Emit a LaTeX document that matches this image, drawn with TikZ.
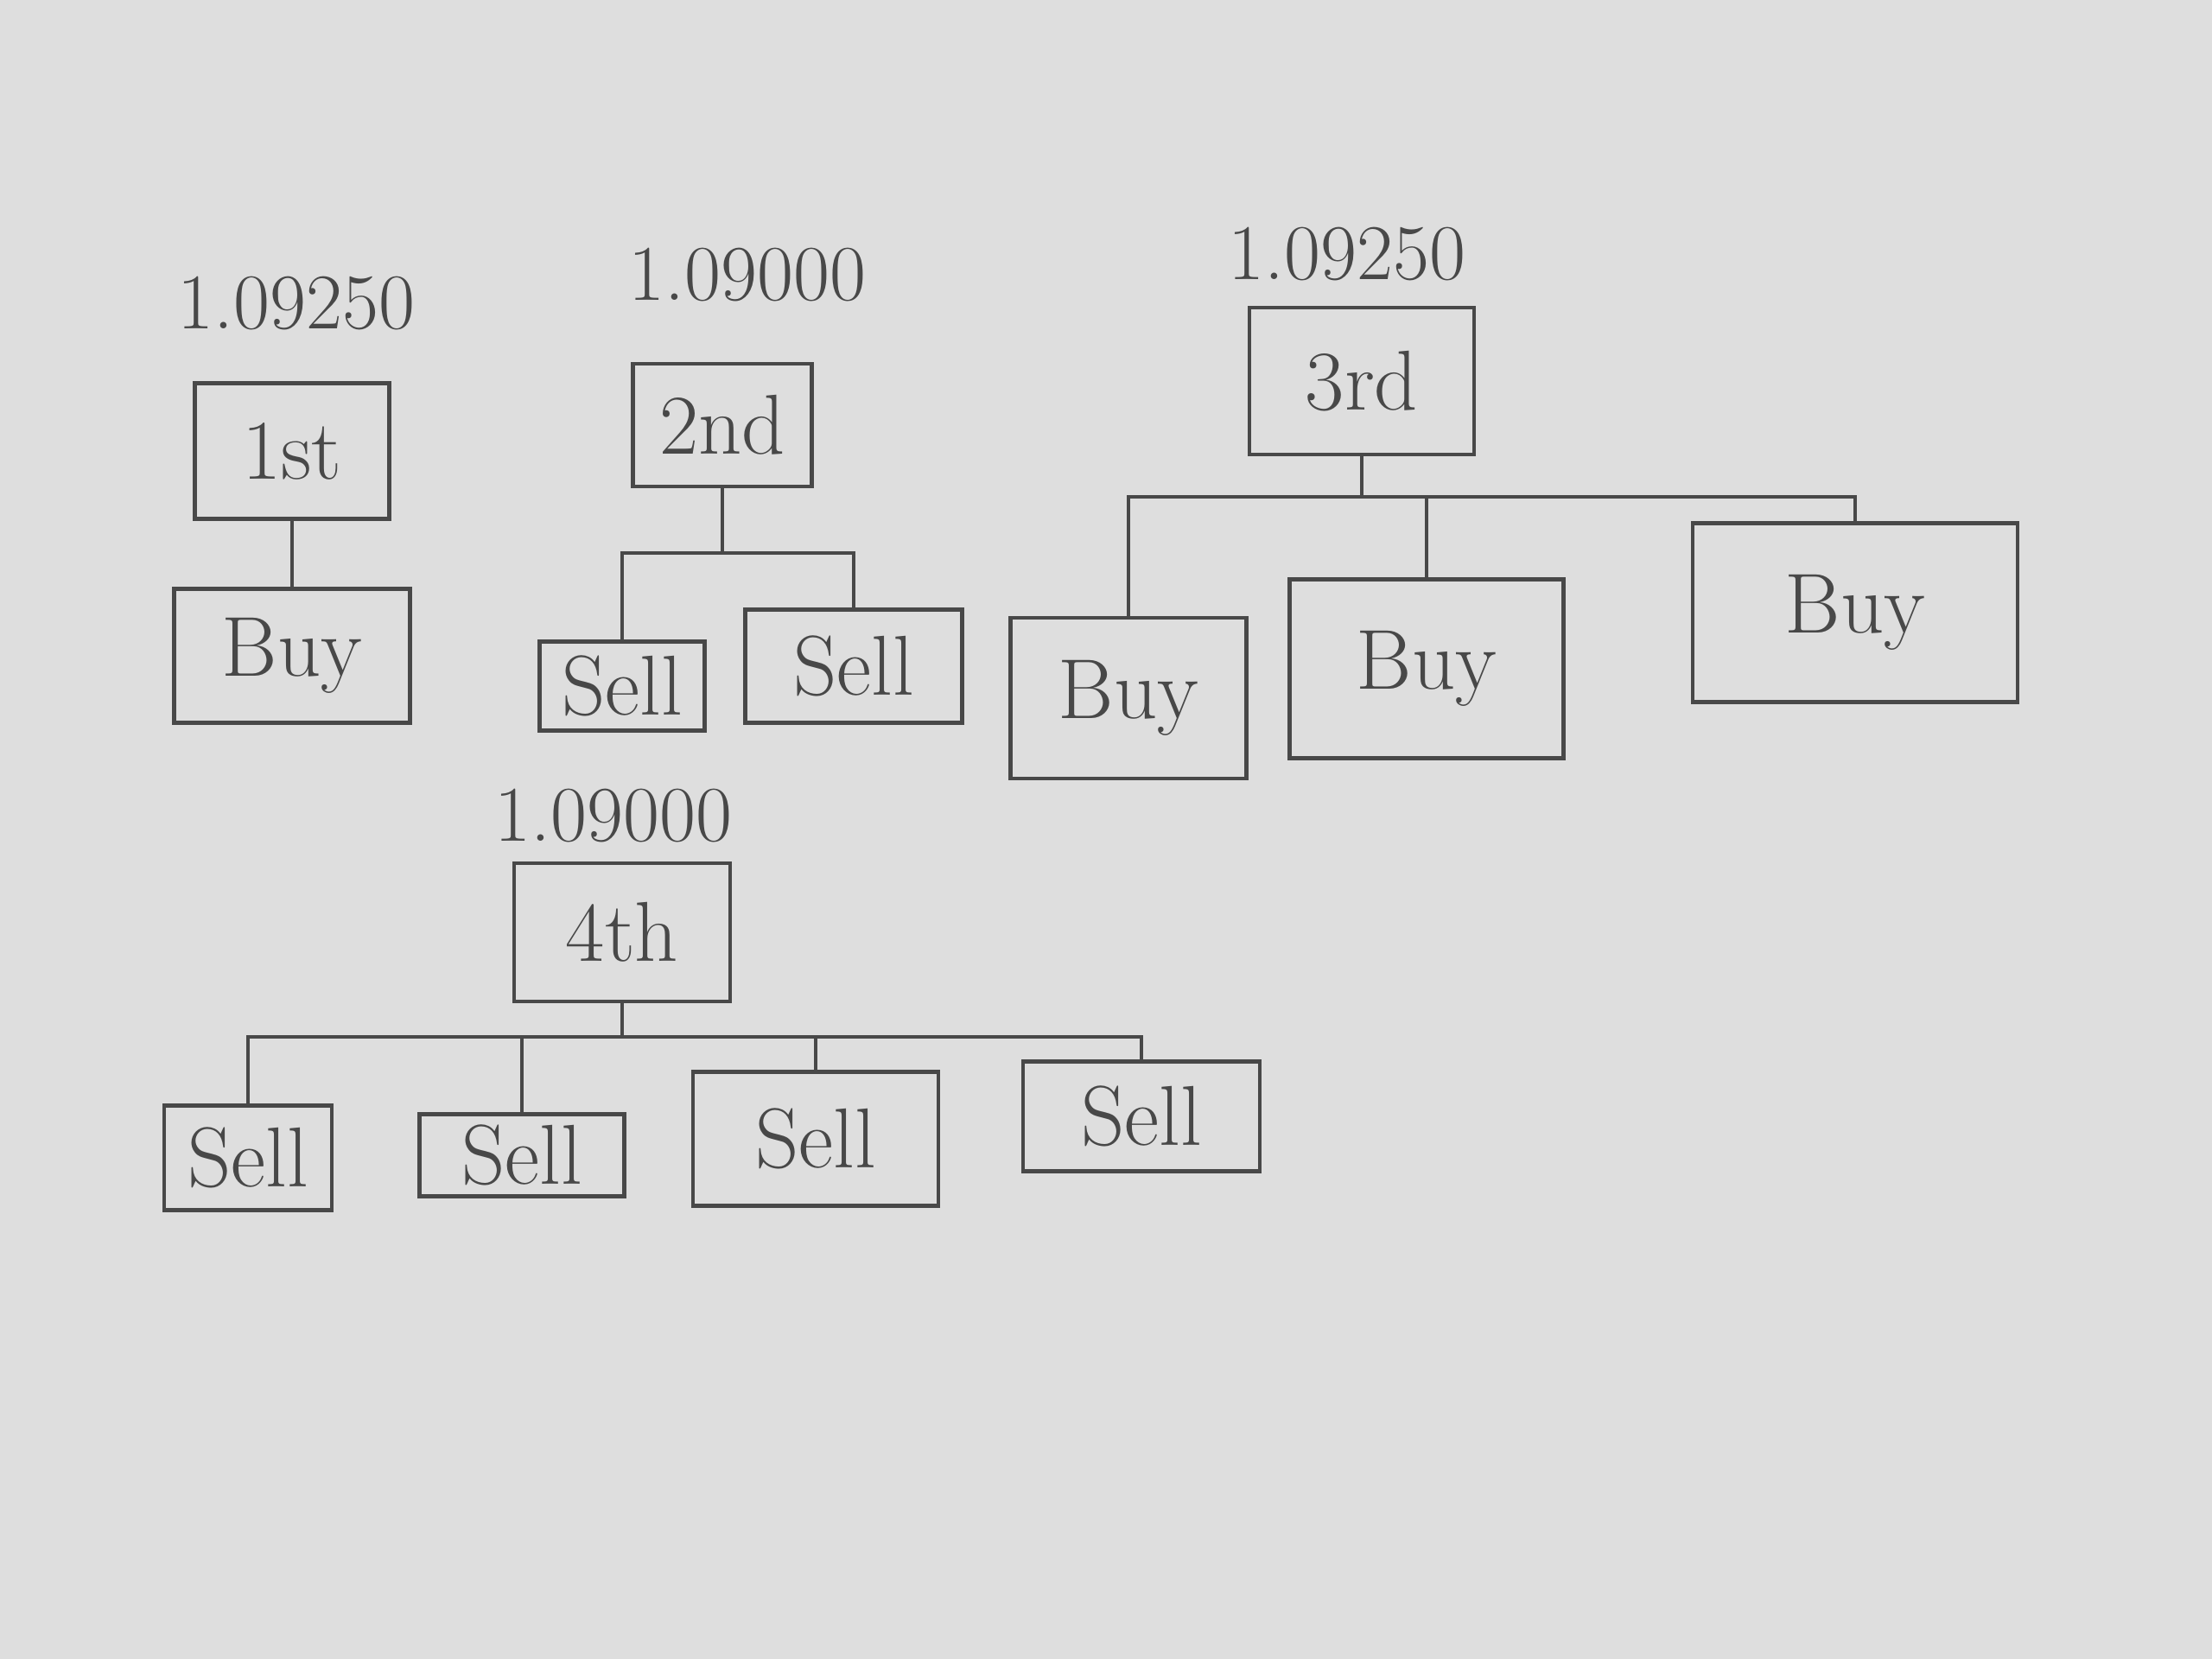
\documentclass[tikz,border=0pt]{standalone}
\usepackage{xcolor}
\definecolor{paper}{RGB}{222,222,222}
\definecolor{ink}{RGB}{72,72,72}
\tikzset{
  box/.style={draw=ink, line width=1.3pt, inner sep=0pt, font=\fontsize{28}{32}\selectfont, text=ink},
  price/.style={font=\fontsize{26}{30}\selectfont, text=ink},
  conn/.style={draw=ink, line width=1.3pt}
}
\begin{document}
\begin{tikzpicture}[scale=1.0]
    % Page
    \fill[paper] (0,0) rectangle (25.6,19.2);
    \useasboundingbox (0,0) rectangle (25.6,19.2);

    % First trade
    \node[price] (num1) at (3.43,15.69) {1.09250};
    \node[box, minimum width=2.25cm, minimum height=1.57cm] (first) at (3.38,13.98) {1st};
    \node[box, minimum width=2.73cm, minimum height=1.55cm] (buyA) at (3.38,11.61) {Buy};
    \draw[conn] (first.south) -- (buyA.north);

    % Second trade
    \node[price] (num2) at (8.65,16.02) {1.09000};
    \node[box, minimum width=2.07cm, minimum height=1.42cm] (second) at (8.36,14.28) {2nd};
    \node[box, minimum width=1.91cm, minimum height=1.03cm] (sellA) at (7.20,11.26) {Sell};
    \node[box, minimum width=2.51cm, minimum height=1.31cm] (sellB) at (9.88,11.49) {Sell};
    \coordinate (bar2) at (8.36,12.8);
    \draw[conn] (second.south) -- (second.south |- bar2);
    \draw[conn] (sellA.north) |- (bar2) -| (sellB.north);

    % Third trade
    \node[price] (num3) at (15.59,16.26) {1.09250};
    \node[box, minimum width=2.60cm, minimum height=1.70cm] (third) at (15.76,14.79) {3rd};
    \node[box, minimum width=2.73cm, minimum height=1.86cm] (buyB) at (13.06,11.12) {Buy};
    \node[box, minimum width=3.17cm, minimum height=2.07cm] (buyC) at (16.51,11.46) {Buy};
    \node[box, minimum width=3.76cm, minimum height=2.07cm] (buyD) at (21.47,12.11) {Buy};
    \coordinate (bar3) at (15.76,13.45);
    \draw[conn] (third.south) -- (third.south |- bar3);
    \draw[conn] (buyB.north) |- (bar3) -| (buyD.north);
    \draw[conn] (buyC.north) -- (buyC.north |- bar3);

    % Fourth trade
    \node[price] (num4) at (7.10,9.76) {1.09000};
    \node[box, minimum width=2.50cm, minimum height=1.60cm] (fourth) at (7.20,8.41) {4th};
    \node[box, minimum width=1.94cm, minimum height=1.21cm] (sellC) at (2.87,5.80) {Sell};
    \node[box, minimum width=2.37cm, minimum height=0.95cm] (sellD) at (6.04,5.83) {Sell};
    \node[box, minimum width=2.84cm, minimum height=1.55cm] (sellE) at (9.44,6.02) {Sell};
    \node[box, minimum width=2.74cm, minimum height=1.27cm] (sellF) at (13.21,6.28) {Sell};
    \coordinate (bar4) at (7.20,7.2);
    \draw[conn] (fourth.south) -- (fourth.south |- bar4);
    \draw[conn] (sellC.north) |- (bar4) -| (sellF.north);
    \draw[conn] (sellD.north) -- (sellD.north |- bar4);
    \draw[conn] (sellE.north) -- (sellE.north |- bar4);
\end{tikzpicture}
\end{document}
